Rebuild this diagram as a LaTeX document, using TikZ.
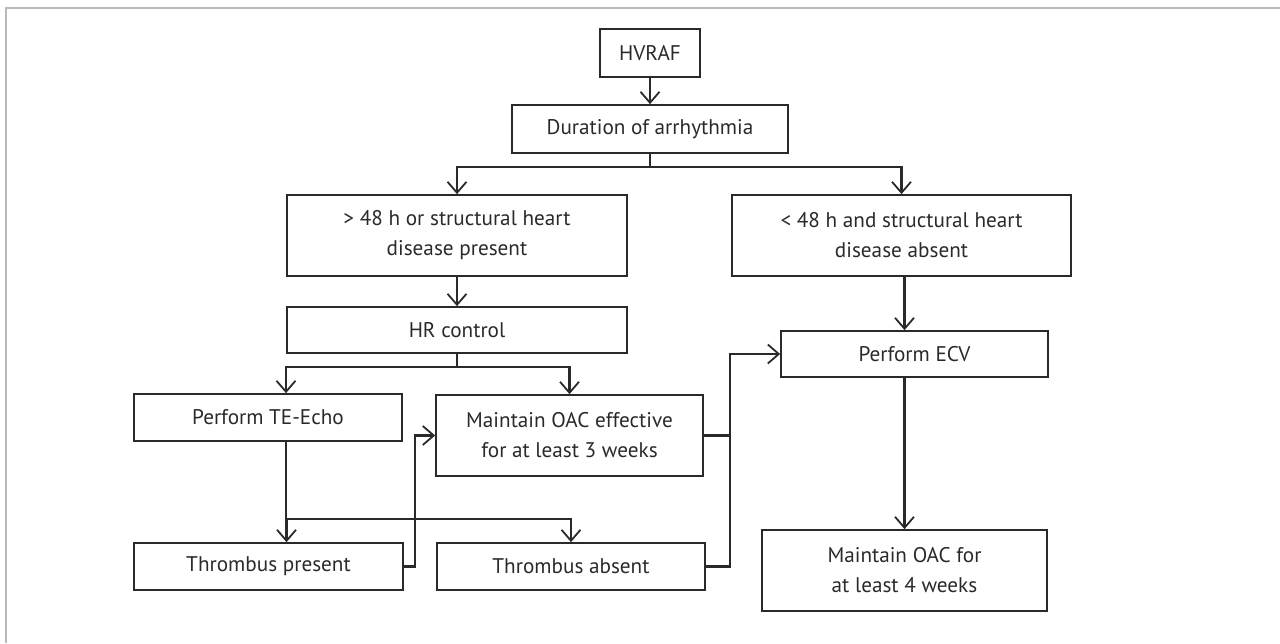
\documentclass[tikz,border=0pt]{standalone}
\usepackage{fontspec}
\setmainfont{PT Sans}
\usetikzlibrary{arrows.meta}
\definecolor{ink}{HTML}{2A2A2A}
\tikzstyle{box} = [rectangle, draw=ink, line width=0.85pt, text=ink, align=center, inner sep=0pt, font=\fontsize{10.6}{15}\selectfont]
\tikzstyle{arrow} = [-{Straight Barb[length=5.5pt,width=9.5pt,line width=0.9pt]}, line width=1.1pt, draw=ink]
\tikzstyle{line} = [line width=1.1pt, draw=ink]

\begin{document}
\begin{tikzpicture}[x=0.5pt, y=-0.5pt]
        \useasboundingbox (0,0) rectangle (1280,643);
        \draw[gray!55, line width=1pt] (6,643) -- (6,8) -- (1280,8);

        \node[box, minimum width=50pt, minimum height=24pt] (hvraf) at (650,53) {HVRAF};
        \node[box, minimum width=138pt, minimum height=24pt] (dur) at (650,129) {Duration of arrhythmia};
        \node[box, minimum width=170pt, minimum height=40.5pt] (gt) at (457,235.5) {> 48 h or structural heart\\disease present};
        \node[box, minimum width=169.5pt, minimum height=40.5pt] (lt) at (901.5,235.5) {< 48 h and structural heart\\disease absent};
        \node[box, minimum width=170pt, minimum height=23pt] (hr) at (457,330) {HR control};
        \node[box, minimum width=134pt, minimum height=23.5pt] (tee) at (268,417.5) {Perform TE-Echo};
        \node[box, minimum width=133.5pt, minimum height=40.5pt] (oac) at (569.5,435.5) {Maintain OAC effective\\for at least 3 weeks};
        \node[box, minimum width=133.5pt, minimum height=23pt] (ecv) at (914.5,354) {Perform ECV};
        \node[box, minimum width=134.5pt, minimum height=23.5pt] (tp) at (268.5,566.5) {Thrombus present};
        \node[box, minimum width=134pt, minimum height=23.5pt] (ta) at (571,566.5) {Thrombus absent};
        \node[box, minimum width=142.5pt, minimum height=40.5pt] (oac4) at (904.5,570.5) {Maintain OAC for\\at least 4 weeks};

        \coordinate (split1) at (650,167);
        \coordinate (split2) at (457,367);
        \coordinate (split3) at (286,519);
        \coordinate (join) at ([xshift=-25pt]ecv.west);

        \draw[arrow] (hvraf.south) -- (dur.north);
        \draw[line] (dur.south) -- (split1);
        \draw[arrow] (split1) -| (gt.north);
        \draw[arrow] (split1) -| (lt.north);
        \draw[arrow] (gt.south) -- (hr.north);
        \draw[line] (hr.south) -- (split2);
        \draw[arrow] (split2) -| ([xshift=9pt]tee.north);
        \draw[arrow] (split2) -| (oac.north);
        \draw[line] ([xshift=9pt]tee.south) -- (split3);
        \draw[arrow] (split3) -| ([xshift=9pt]tp.north);
        \draw[arrow] (split3) -| (ta.north);
        \draw[arrow] (tp.east) -| ([xshift=-10pt]oac.west) -- (oac.west);
        \draw[line] (oac.east) -- (oac.east -| join);
        \draw[arrow] (ta.east) -| (join) -- (ecv.west);
        \draw[arrow] (oac4.north |- lt.south) -- (oac4.north |- ecv.north);
        \draw[arrow] (oac4.north |- ecv.south) -- (oac4.north);
\end{tikzpicture}
\end{document}
